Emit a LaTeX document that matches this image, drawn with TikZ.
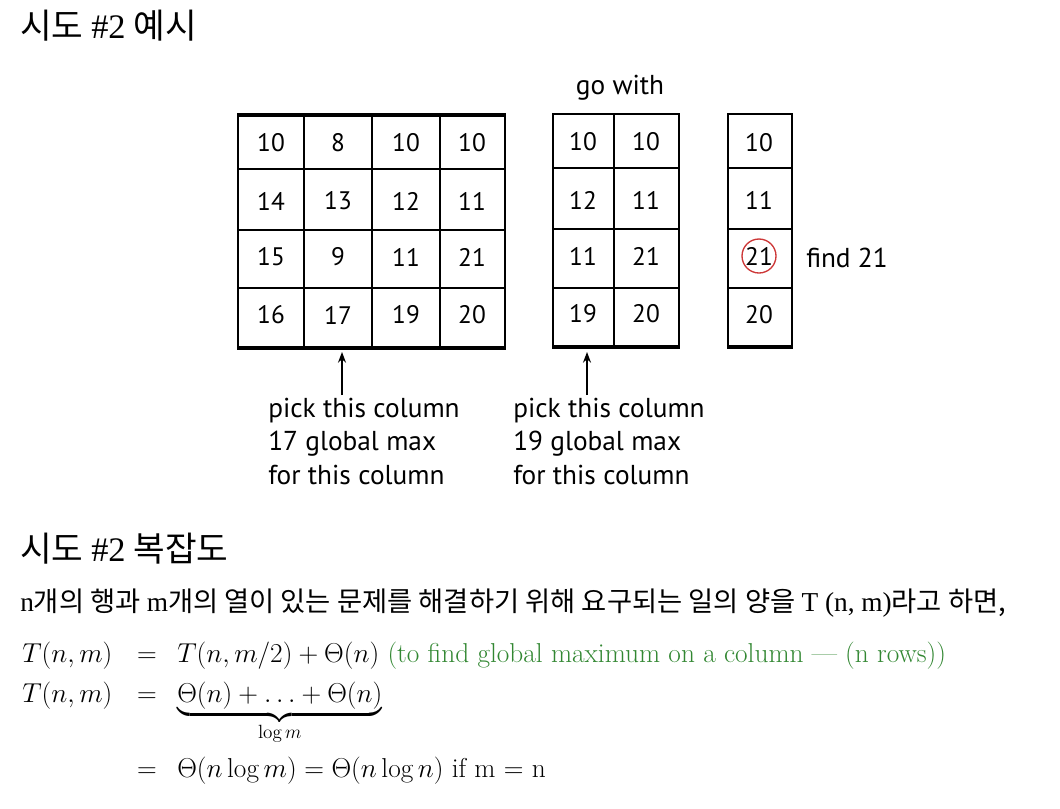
\RequirePackage{fix-cm}
\documentclass[tikz,border=0pt]{standalone}
\usepackage{amsmath}
\usepackage{fontspec}
\newfontfamily\kofont{Noto Sans CJK KR}
\newfontfamily\timesfont{Liberation Serif}
\newfontfamily\figfont{PT Sans}
\usetikzlibrary{arrows.meta}
\definecolor{ringred}{RGB}{205, 55, 55}
\definecolor{notegreen}{RGB}{50, 135, 50}

\begin{document}
\begin{tikzpicture}[x=0.75pt, y=-0.75pt,
    cell/.style={font=\figfont\fontsize{19}{21}\selectfont, inner sep=0pt},
    label/.style={font=\figfont\fontsize{20.5}{23}\selectfont, inner sep=0pt},
    gridline/.style={line width=1.3pt},
    edgeline/.style={line width=2.4pt},
    note/.style={font=\figfont\fontsize{20.5}{25}\selectfont, align=left,
                 anchor=north west, inner sep=0pt},
    pointer/.style={line width=1.1pt, -{Stealth[length=8pt, width=6pt]}},
    heading/.style={anchor=base west, inner sep=0pt,
                    font=\kofont\fontsize{25.8}{30}\selectfont},
    eq/.style={inner sep=0pt, font=\fontsize{20.5}{24}\selectfont}]
  \useasboundingbox (0, 0) rectangle (1060, 808);

  % example heading
  \node[heading] (title1) at (20, 38) {시도 {\timesfont\#2} 예시};

  % first grid, 4 x 4
  \draw[gridline] (238, 115) rectangle (505, 348);
  \foreach \x in {304, 372, 440}
    \draw[gridline] (\x, 115) -- (\x, 348);
  \foreach \y in {169, 230, 288}
    \draw[gridline] (238, \y) -- (505, \y);
  \draw[edgeline] (237, 115) -- (506, 115);
  \draw[edgeline] (237, 348) -- (506, 348);
  \foreach \r/\y/\a/\b/\c/\d in {1/143/10/8/10/10, 2/201/14/13/12/11,
                                 3/257/15/9/11/21, 4/315/16/17/19/20} {
    \node[cell] (A-\r-1) at (271, \y) {\a};
    \node[cell] (A-\r-2) at (338, \y) {\b};
    \node[cell] (A-\r-3) at (406, \y) {\c};
    \node[cell] (A-\r-4) at (472, \y) {\d};
  }

  % second grid, 4 x 2
  \node[label] (gowith) at (620, 88) {go with};
  \draw[gridline] (553, 114) rectangle (679, 347);
  \draw[gridline] (614, 114) -- (614, 347);
  \foreach \y in {168, 229, 288}
    \draw[gridline] (553, \y) -- (679, \y);
  \draw[edgeline] (552, 347) -- (680, 347);
  \foreach \r/\y/\a/\b in {1/142/10/10, 2/200/12/11, 3/256/11/21, 4/314/19/20} {
    \node[cell] (B-\r-1) at (583, \y) {\a};
    \node[cell] (B-\r-2) at (646, \y) {\b};
  }

  % third grid, 4 x 1
  \draw[gridline] (728, 114) rectangle (792, 347);
  \foreach \y in {168, 229, 288}
    \draw[gridline] (728, \y) -- (792, \y);
  \draw[edgeline] (727, 347) -- (793, 347);
  \foreach \r/\y/\a in {1/143/10, 2/200/11, 3/256/21, 4/315/20}
    \node[cell] (C-\r) at (759, \y) {\a};
  \draw[ringred, line width=1pt] (C-3) circle (17);
  \node[label, anchor=west] (find) at (806, 258) {find 21};

  % pointers and notes
  \coordinate (tip1) at (342, 352);
  \coordinate (tail1) at (342, 395);
  \coordinate (tip2) at (587, 352);
  \coordinate (tail2) at (587, 395);
  \draw[pointer] (tail1) -- (tip1);
  \draw[pointer] (tail2) -- (tip2);
  \node[note] (note1) at (268, 398) {pick this column\\17 global max\\for this column};
  \node[note] (note2) at (513, 398) {pick this column\\19 global max\\for this column};

  % complexity heading and text
  \node[heading] (title2) at (20, 561) {시도 {\timesfont\#2} 복잡도};
  \node[anchor=base west, inner sep=0pt, font=\kofont\fontsize{20.5}{24}\selectfont]
    (intro) at (20, 611)
    {{\timesfont n}개의 행과 {\timesfont m}개의 열이 있는 문제를 해결하기 위해
     요구되는 일의 양을 {\timesfont T (n, m)}라고 하면,};

  % recurrence
  \node[eq, anchor=base west] (lhs1) at (22, 662) {$T(n,m)$};
  \node[eq, anchor=base] (eq1) at (147, 662) {$=$};
  \node[eq, anchor=base west] (rhs1) at (177, 662)
    {$T(n,m/2)+\Theta(n)$ \textcolor{notegreen}{(to find global maximum on a column --- (n rows))}};
  \node[eq, anchor=base west] (lhs2) at (22, 702) {$T(n,m)$};
  \node[eq, anchor=base] (eq2) at (147, 702) {$=$};
  \node[eq, anchor=base west] (rhs2) at (177, 702)
    {$\underbrace{\Theta(n)+\ldots+\Theta(n)}_{\log m}$};
  \node[eq, anchor=base] (eq3) at (147, 777) {$=$};
  \node[eq, anchor=base west] (rhs3) at (177, 777)
    {$\Theta(n\log m)=\Theta(n\log n)$ if m = n};
\end{tikzpicture}
\end{document}
